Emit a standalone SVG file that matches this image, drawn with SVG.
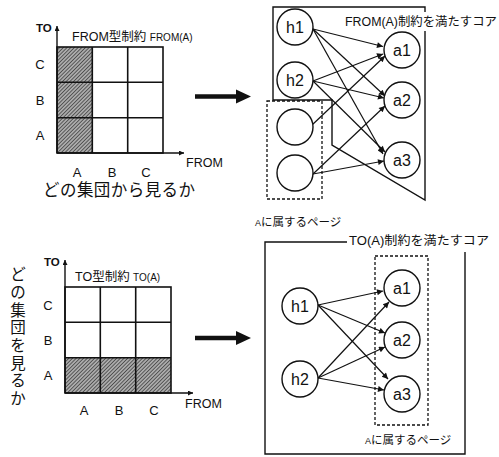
<svg xmlns="http://www.w3.org/2000/svg" width="499" height="457" viewBox="0 0 499 457">
<defs>
<style>
.t{font-family:"Liberation Sans","Noto Sans CJK JP",sans-serif;fill:#111}
.ln{stroke:#111;stroke-width:1.4;fill:none}
.grid{stroke:#111;stroke-width:1.6;fill:none}
.node{stroke:#111;stroke-width:1.4;fill:#fff}
.dash{stroke:#111;stroke-width:1.3;fill:none;stroke-dasharray:3 2}
.edge{stroke:#111;stroke-width:1.2;fill:none;marker-end:url(#ah)}
.nl{font-size:16px;text-anchor:middle}
</style>
<marker id="ah" viewBox="0 0 10 10" refX="10" refY="5" markerWidth="8" markerHeight="6" markerUnits="userSpaceOnUse" orient="auto">
<path d="M0,0 L10,5 L0,10 z" fill="#111"/>
</marker>
<marker id="axh" viewBox="0 0 10 10" refX="10" refY="5" markerWidth="6" markerHeight="5" markerUnits="userSpaceOnUse" orient="auto">
<path d="M0,0 L10,5 L0,10 z" fill="#111"/>
</marker>
<pattern id="hatch" width="2.6" height="2.6" patternUnits="userSpaceOnUse" patternTransform="rotate(45)">
<rect width="2.6" height="2.6" fill="#ababab"/>
<line x1="0" y1="0" x2="0" y2="2.6" stroke="#222" stroke-width="1.2"/>
</pattern>
</defs>
<rect width="499" height="457" fill="#fff"/>

<!-- top-left matrix -->
<g id="matrix-from">
<rect x="57" y="47" width="35.3" height="106" fill="url(#hatch)"/>
<rect x="57" y="47" width="106" height="106" class="grid"/>
<line x1="92.3" y1="47" x2="92.3" y2="153" class="grid"/>
<line x1="127.7" y1="47" x2="127.7" y2="153" class="grid"/>
<line x1="57" y1="82.3" x2="163" y2="82.3" class="grid"/>
<line x1="57" y1="117.7" x2="163" y2="117.7" class="grid"/>
<line x1="57" y1="153" x2="57" y2="26" class="ln" marker-end="url(#axh)"/>
<line x1="57" y1="153" x2="184" y2="153" class="ln" marker-end="url(#axh)"/>
<text class="t" x="36" y="32" font-size="11.5" font-weight="bold">TO</text>
<text class="t" x="72" y="41" font-size="12.5">FROM型制約 <tspan font-size="10">FROM(A)</tspan></text>
<text class="t" x="40" y="69" font-size="13" text-anchor="middle">C</text>
<text class="t" x="40" y="105" font-size="13" text-anchor="middle">B</text>
<text class="t" x="40" y="140" font-size="13" text-anchor="middle">A</text>
<text class="t" x="77" y="177" font-size="13" text-anchor="middle">A</text>
<text class="t" x="112" y="177" font-size="13" text-anchor="middle">B</text>
<text class="t" x="146" y="177" font-size="13" text-anchor="middle">C</text>
<text class="t" x="186" y="167" font-size="12.5">FROM</text>
<text class="t" x="43" y="196" font-size="16.5" textLength="152">どの集団から見るか</text>
</g>

<g id="arrow-top">
<line x1="195" y1="96.5" x2="238" y2="96.5" stroke="#111" stroke-width="4.5"/>
<path d="M236,89.5 L251,96.5 L236,103.5 z" fill="#111"/>
</g>

<!-- top-right -->
<g id="core-from">
<polygon points="273,7 425,7 425,200 332,145 332,100 273,100" class="ln"/>
<rect x="343" y="12" width="156" height="19" fill="#fff"/>
<text class="t" x="345" y="26" font-size="12.5" textLength="152" lengthAdjust="spacingAndGlyphs">FROM(A)制約を満たすコア</text>
</g>
<g id="page-a-top">
<rect x="267" y="101" width="55" height="98" class="dash"/>
<text class="t" x="255" y="226" font-size="11.5"><tspan font-size="9">A</tspan>に属するページ</text>
</g>

<g id="connectors-top">
<line x1="313" y1="29" x2="383" y2="46.5" class="edge"/>
<line x1="313" y1="29" x2="385" y2="96" class="edge"/>
<line x1="313" y1="29" x2="383" y2="154" class="edge"/>
<line x1="313" y1="81" x2="383" y2="54" class="edge"/>
<line x1="313" y1="81" x2="384" y2="98" class="edge"/>
<line x1="313" y1="81" x2="385" y2="152" class="edge"/>
<line x1="312" y1="125" x2="385" y2="56" class="edge"/>
<line x1="313" y1="174" x2="385" y2="106" class="edge"/>
<line x1="313" y1="174" x2="384" y2="161" class="edge"/>
</g>

<g id="h1-top"><circle cx="295" cy="27" r="18" class="node"/><text class="t nl" x="295" y="33">h1</text></g>
<g id="h2-top"><circle cx="295" cy="80" r="18" class="node"/><text class="t nl" x="295" y="86">h2</text></g>
<g id="p1-top"><circle cx="295" cy="127" r="18" class="node"/></g>
<g id="p2-top"><circle cx="295" cy="173" r="18" class="node"/></g>
<g id="a1-top"><circle cx="402" cy="50" r="18" class="node"/><text class="t nl" x="402" y="56">a1</text></g>
<g id="a2-top"><circle cx="402" cy="100" r="18" class="node"/><text class="t nl" x="402" y="106">a2</text></g>
<g id="a3-top"><circle cx="402" cy="160" r="18" class="node"/><text class="t nl" x="402" y="166">a3</text></g>

<!-- bottom-left matrix -->
<g id="matrix-to">
<rect x="65" y="357.7" width="106" height="35.3" fill="url(#hatch)"/>
<rect x="65" y="287" width="106" height="106" class="grid"/>
<line x1="100.3" y1="287" x2="100.3" y2="393" class="grid"/>
<line x1="135.7" y1="287" x2="135.7" y2="393" class="grid"/>
<line x1="65" y1="322.3" x2="171" y2="322.3" class="grid"/>
<line x1="65" y1="357.7" x2="171" y2="357.7" class="grid"/>
<line x1="65" y1="393" x2="65" y2="260" class="ln" marker-end="url(#axh)"/>
<line x1="65" y1="393" x2="193" y2="393" class="ln" marker-end="url(#axh)"/>
<text class="t" x="44" y="266" font-size="11.5" font-weight="bold">TO</text>
<text class="t" x="75" y="281" font-size="12.5">TO型制約 <tspan font-size="10">TO(A)</tspan></text>
<text class="t" x="48" y="310" font-size="13" text-anchor="middle">C</text>
<text class="t" x="48" y="345" font-size="13" text-anchor="middle">B</text>
<text class="t" x="48" y="380" font-size="13" text-anchor="middle">A</text>
<text class="t" x="84" y="415" font-size="13" text-anchor="middle">A</text>
<text class="t" x="119" y="415" font-size="13" text-anchor="middle">B</text>
<text class="t" x="154" y="415" font-size="13" text-anchor="middle">C</text>
<text class="t" x="185" y="408" font-size="12.5">FROM</text>
<text class="t" font-size="15.5" text-anchor="middle"><tspan x="18" y="280">ど</tspan><tspan x="18" y="298">の</tspan><tspan x="18" y="316">集</tspan><tspan x="18" y="333">団</tspan><tspan x="18" y="351">を</tspan><tspan x="18" y="369">見</tspan><tspan x="18" y="386">る</tspan><tspan x="18" y="404">か</tspan></text>
</g>

<g id="arrow-bottom">
<line x1="195" y1="338" x2="238" y2="338" stroke="#111" stroke-width="4.5"/>
<path d="M236,331 L251,338 L236,345 z" fill="#111"/>
</g>

<!-- bottom-right -->
<g id="core-to">
<polyline points="347,242 265,242 265,454 465,454 465,252" class="ln"/>
<text class="t" x="349" y="245" font-size="12.5" textLength="140" lengthAdjust="spacingAndGlyphs">TO(A)制約を満たすコア</text>
</g>
<g id="page-a-bottom">
<rect x="375" y="256" width="53" height="169" class="dash"/>
<text class="t" x="365" y="444" font-size="11.5"><tspan font-size="9">A</tspan>に属するページ</text>
</g>

<g id="connectors-bottom">
<line x1="318" y1="305" x2="383" y2="291" class="edge"/>
<line x1="318" y1="305" x2="385" y2="333" class="edge"/>
<line x1="318" y1="305" x2="388" y2="379" class="edge"/>
<line x1="318" y1="378" x2="389" y2="302" class="edge"/>
<line x1="318" y1="378" x2="385" y2="347" class="edge"/>
<line x1="318" y1="378" x2="384" y2="390" class="edge"/>
</g>

<g id="h1-bottom"><circle cx="300" cy="306" r="18" class="node"/><text class="t nl" x="300" y="312">h1</text></g>
<g id="h2-bottom"><circle cx="300" cy="379" r="18" class="node"/><text class="t nl" x="300" y="385">h2</text></g>
<g id="a1-bottom"><circle cx="402" cy="288" r="18" class="node"/><text class="t nl" x="402" y="294">a1</text></g>
<g id="a2-bottom"><circle cx="402" cy="340" r="18" class="node"/><text class="t nl" x="402" y="346">a2</text></g>
<g id="a3-bottom"><circle cx="402" cy="394" r="18" class="node"/><text class="t nl" x="402" y="400">a3</text></g>
</svg>
